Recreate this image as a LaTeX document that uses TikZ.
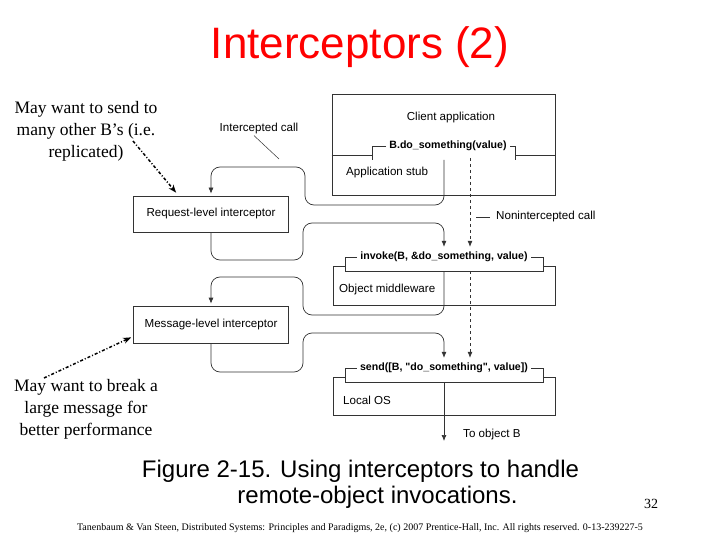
\documentclass[tikz,border=0pt]{standalone}
\usepackage{fontspec}
\setmainfont{Liberation Serif}
\setsansfont{Liberation Sans}
\newfontfamily\callfont{Liberation Sans}[Ligatures=TeXOff]
\usetikzlibrary{positioning,shapes,arrows,arrows.meta}

\begin{document}
\begin{tikzpicture}[x=1pt, y=-1pt,
    ibox/.style={draw=black!80, line width=0.7pt, minimum width=155pt},
    dtext/.style={font=\fontsize{11.6}{13}\sffamily, inner sep=1pt},
    calltext/.style={font=\fontsize{10.6}{12}\callfont\bfseries, inner sep=3pt},
    wire/.style={draw=black!80, line width=0.7pt},
    flow/.style={wire, rounded corners=9pt, -{Latex[length=6pt,width=5pt]}, shorten >=2pt},
    note/.style={font=\fontsize{17.5}{22}\selectfont, align=center},
    hint/.style={line width=1.5pt, dash pattern=on 3pt off 2pt on 1pt off 2pt, -{Stealth[length=8pt,width=6pt]}}]

  \useasboundingbox (0,0) rectangle (720,540);

  % title
  \node (title) at (360,47) [font=\fontsize{44}{48}\sffamily, text=red] {Interceptors (2)};

  % client side
  \node (client) at (443.5,144.5) [ibox, minimum width=223pt, minimum height=101pt] {};
  \node (clienttxt) at (451,118) [dtext] {Client application};
  \node (stub) at (345,173) [dtext, anchor=west] {Application stub};
  \node (dosth) at (448,146) [calltext] {B.do\_something(value)};
  \draw[wire] (client.west |- 0,155) -- (372,155)
              (dosth.west) -- (372,146) -- (372,160)
              (515,160) -- (515,146) -- (dosth.east)
              (515,155) -- (client.east |- 0,155);

  % interceptors
  \node (req) at (211,214) [ibox, minimum height=36pt, dtext] {Request-level interceptor};
  \node (msg) at (211,324.5) [ibox, minimum height=37pt, dtext] {Message-level interceptor};

  % object middleware
  \node (inv) at (444,257) [calltext] {invoke(B, \&do\_something, value)};
  \draw[wire] (inv.west) -- (345,257) -- (345,271) -- (543,271) -- (543,257) -- (inv.east);
  \draw[wire] (345,266) -- (333,266) -- (333,305) -- (555,305) -- (555,266) -- (543,266);
  \node (mw) at (338,290) [dtext, anchor=west] {Object middleware};

  % local OS
  \node (send) at (444,368) [calltext] {send([B, "do\_something", value])};
  \draw[wire] (send.west) -- (345,368) -- (345,382) -- (543,382) -- (543,368) -- (send.east);
  \draw[wire] (345,377) -- (333,377) -- (333,415) -- (555,415) -- (555,377) -- (543,377);
  \node (los) at (342,400) [dtext, anchor=west] {Local OS};

  % labels
  \node (icall) at (259,129) [dtext] {Intercepted call};
  \coordinate (icallend) at (279,159);
  \draw[wire, line width=0.5pt] ([xshift=-5pt]icall.south) -- (icallend);
  \node (nicall) at (495,217) [dtext, anchor=west] {Nonintercepted call};
  \draw[wire, line width=0.5pt] ([xshift=-5pt]nicall.west) -- ++(-14,0);
  \node (tob) at (462,434) [dtext, anchor=west] {To object B};

  % calls
  \coordinate (dsout) at (444,160);
  \coordinate (invout) at (444,271);
  \coordinate (sendout) at (444,382);
  \coordinate (objb) at (444,441);
  \draw[flow] (dsout) -- (444,205) -- (305,205) -- (305,167) -- (211,167) -- (req.north);
  \draw[flow] (req.south) -- (211,260) -- (303,260) -- (303,223) -- (444,223) -- (inv.north);
  \draw[flow] (invout) -- (444,315) -- (303,315) -- (303,277) -- (211,277) -- (msg.north);
  \draw[flow] (msg.south) -- (211,372) -- (303,372) -- (303,333) -- (444,333) -- (send.north);
  \draw[wire, -{Latex[length=6pt,width=5pt]}] (sendout) -- (objb);

  % nonintercepted call
  \coordinate (nonint) at (470,158);
  \coordinate (nonint2) at (470,271);
  \draw[wire, dashed, -{Latex[length=6pt,width=5pt]}, shorten >=2pt] (nonint) -- (inv.north -| nonint);
  \draw[wire, dashed, -{Latex[length=6pt,width=5pt]}, shorten >=2pt] (nonint2) -- (send.north -| nonint2);

  % remarks
  \node (note1) at (86,131) [note] {May want to send to\\many other B's (i.e.\\replicated)};
  \node (note2) at (86,409) [note] {May want to break a\\large message for\\better performance};
  \coordinate (n1a) at (133,141);
  \coordinate (n2a) at (44,378);
  \draw[hint] (n1a) -- ([xshift=43pt,yshift=3pt]req.north west);
  \draw[hint] (n2a) -- ([xshift=-2pt,yshift=6pt]msg.south west);

  % caption
  \node (cap1) at (360.5,471) [font=\fontsize{24}{26}\sffamily] {Figure 2-15. Using interceptors to handle};
  \node (cap2) at (377.5,497) [font=\fontsize{24}{26}\sffamily] {remote-object invocations.};
  \node (pnum) at (651,504) [font=\fontsize{14}{16}\selectfont] {32};
  \node (foot) at (360,528) [font=\fontsize{10}{11}\selectfont] {Tanenbaum \& Van Steen, Distributed Systems: Principles and Paradigms, 2e, (c) 2007 Prentice-Hall, Inc. All rights reserved. 0-13-239227-5};
\end{tikzpicture}
\end{document}
